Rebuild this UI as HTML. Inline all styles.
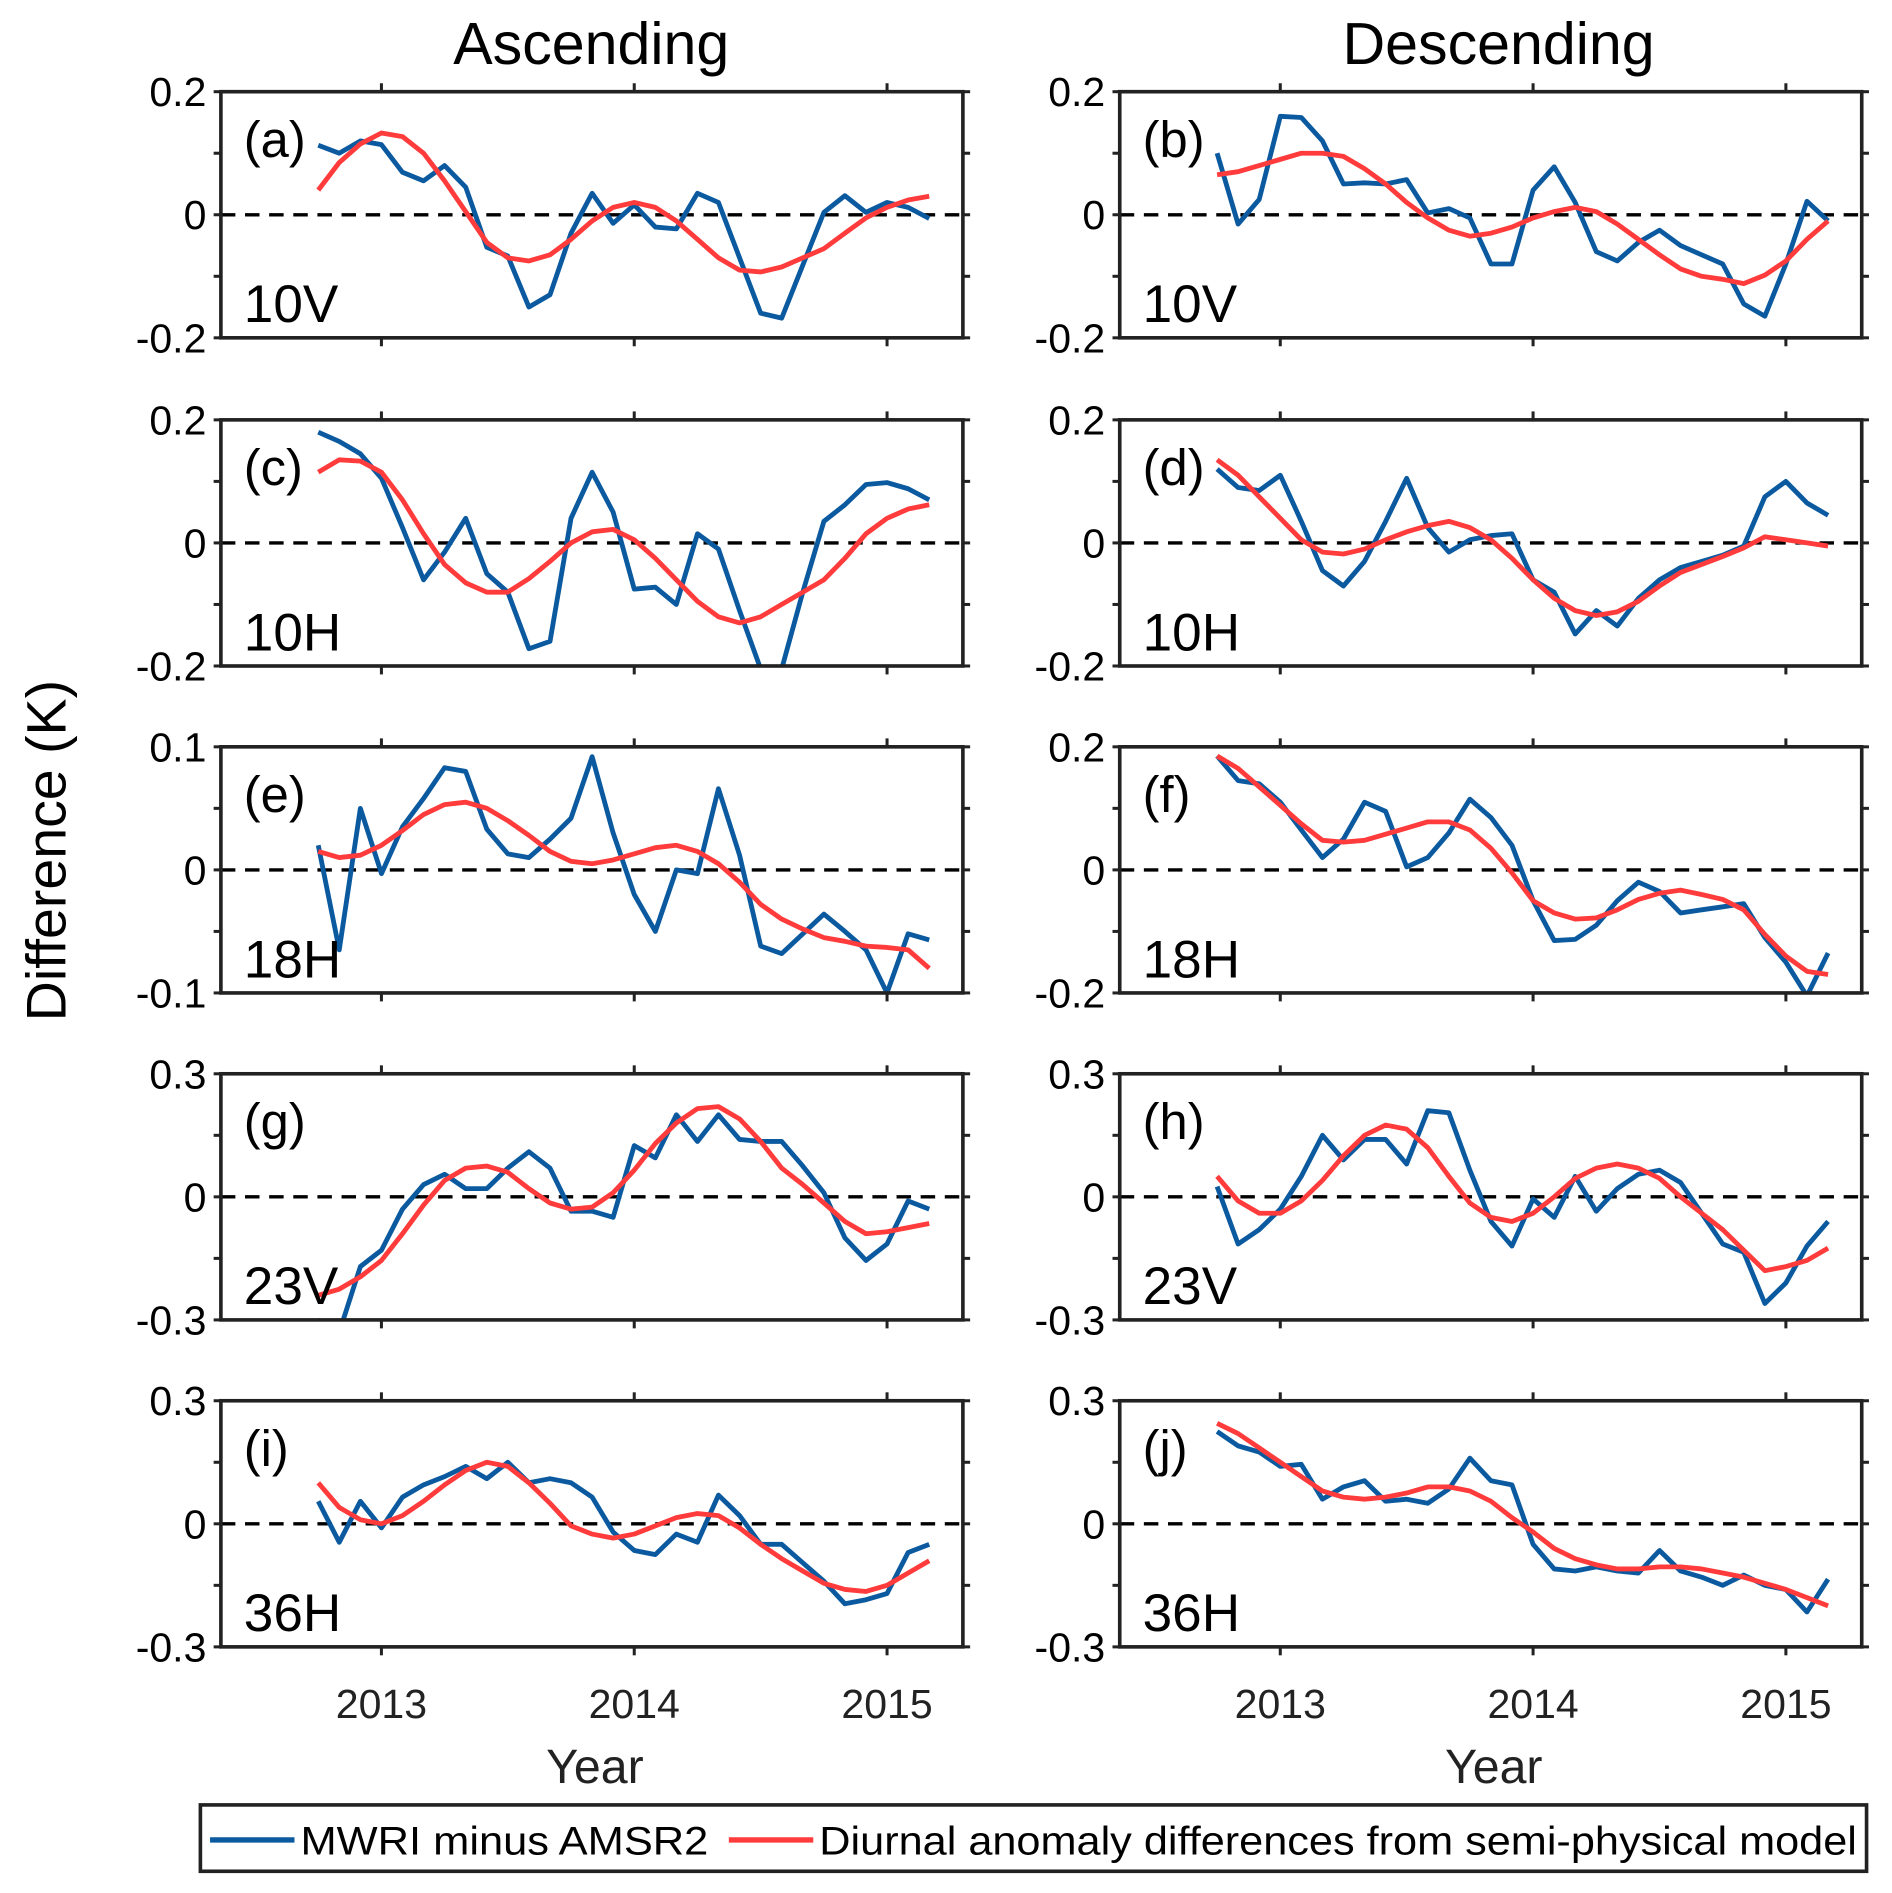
<!DOCTYPE html>
<html><head><meta charset="utf-8"><style>
html,body{margin:0;padding:0;background:#fff;}
svg{display:block;font-family:"Liberation Sans",Arial,sans-serif;}
</style></head><body>
<svg id="chart" width="1892" height="1893" viewBox="0 0 1568 1569" xmlns="http://www.w3.org/2000/svg">
<text x="490" y="53" font-size="49" text-anchor="middle">Ascending</text>
<text x="1242" y="53" font-size="49" text-anchor="middle">Descending</text>
<text transform="translate(54,705) rotate(-90)" font-size="46" text-anchor="middle">Difference (K)</text>
<text x="493" y="1478" font-size="40" text-anchor="middle" fill="#222">Year</text>
<text x="1238" y="1478" font-size="40" text-anchor="middle" fill="#222">Year</text>
<g>
<rect x="166" y="1496" width="1381" height="55" fill="#fff" stroke="#222" stroke-width="3"/>
<line x1="174" y1="1525" x2="244" y2="1525" stroke="#0b5aa0" stroke-width="4.5"/>
<text x="249" y="1537" font-size="33" textLength="338" lengthAdjust="spacingAndGlyphs">MWRI minus AMSR2</text>
<line x1="604" y1="1525" x2="674" y2="1525" stroke="#ff3b3b" stroke-width="4.5"/>
<text x="679" y="1537" font-size="33" textLength="860" lengthAdjust="spacingAndGlyphs">Diurnal anomaly differences from semi-physical model</text>
</g>
</svg>
<script>
const years=[2013,2014,2015];
const startYear=2012.75;
const labels=["(a)","(b)","(c)","(d)","(e)","(f)","(g)","(h)","(i)","(j)"];
const channels=["10V","10V","10H","10H","18H","18H","23V","23V","36H","36H"];
const yMax=[0.2,0.2,0.2,0.2,0.1,0.2,0.3,0.3,0.3,0.3];
const blue_a=[0.113,0.10,0.12,0.114,0.069,0.055,0.08,0.045,-0.053,-0.067,-0.15,-0.13,-0.03,0.035,-0.014,0.016,-0.02,-0.023,0.035,0.02,-0.07,-0.16,-0.168,-0.082,0.004,0.031,0.004,0.02,0.012,-0.006];
const red_a=[0.04,0.085,0.115,0.133,0.127,0.10,0.055,0.005,-0.045,-0.07,-0.075,-0.065,-0.04,-0.01,0.012,0.02,0.012,-0.01,-0.04,-0.07,-0.09,-0.093,-0.085,-0.07,-0.055,-0.03,-0.005,0.012,0.024,0.03];
const blue_b=[0.1,-0.015,0.025,0.16,0.158,0.12,0.05,0.052,0.05,0.057,0.003,0.01,-0.005,-0.08,-0.08,0.04,0.078,0.02,-0.06,-0.075,-0.045,-0.025,-0.05,-0.065,-0.08,-0.145,-0.165,-0.08,0.022,-0.01];
const red_b=[0.065,0.07,0.08,0.09,0.1,0.1,0.095,0.075,0.05,0.02,-0.005,-0.025,-0.035,-0.03,-0.02,-0.005,0.005,0.012,0.005,-0.015,-0.04,-0.065,-0.088,-0.1,-0.105,-0.112,-0.098,-0.075,-0.04,-0.01];
const blue_c=[0.18,0.165,0.145,0.105,0.025,-0.06,-0.015,0.04,-0.05,-0.08,-0.172,-0.16,0.04,0.115,0.05,-0.075,-0.072,-0.1,0.015,-0.01,-0.11,-0.205,-0.205,-0.08,0.035,0.062,0.095,0.098,0.088,0.07];
const red_c=[0.115,0.135,0.133,0.115,0.07,0.015,-0.035,-0.065,-0.08,-0.08,-0.058,-0.03,0,0.018,0.022,0.005,-0.025,-0.06,-0.095,-0.12,-0.13,-0.12,-0.1,-0.08,-0.06,-0.025,0.015,0.04,0.055,0.062];
const blue_d=[0.12,0.09,0.085,0.11,0.035,-0.045,-0.07,-0.03,0.035,0.105,0.025,-0.015,0.005,0.012,0.015,-0.06,-0.08,-0.148,-0.11,-0.135,-0.09,-0.06,-0.04,-0.03,-0.02,-0.005,0.075,0.1,0.065,0.045];
const red_d=[0.135,0.11,0.075,0.04,0.005,-0.015,-0.018,-0.01,0.005,0.018,0.028,0.035,0.025,0.005,-0.025,-0.06,-0.09,-0.11,-0.118,-0.112,-0.095,-0.07,-0.048,-0.035,-0.022,-0.008,0.01,0.005,0,-0.005];
const blue_e=[0.02,-0.065,0.05,-0.003,0.035,0.058,0.083,0.08,0.033,0.013,0.01,0.025,0.042,0.092,0.03,-0.02,-0.05,0,-0.003,0.066,0.012,-0.062,-0.068,-0.052,-0.036,-0.05,-0.065,-0.1,-0.052,-0.057];
const red_e=[0.015,0.01,0.012,0.02,0.032,0.045,0.053,0.055,0.05,0.04,0.028,0.015,0.007,0.005,0.008,0.013,0.018,0.02,0.015,0.005,-0.01,-0.028,-0.04,-0.048,-0.055,-0.058,-0.062,-0.063,-0.065,-0.08];
const blue_f=[0.185,0.145,0.14,0.11,0.065,0.02,0.05,0.11,0.095,0.005,0.02,0.06,0.115,0.085,0.04,-0.05,-0.115,-0.113,-0.09,-0.05,-0.02,-0.035,-0.07,-0.065,-0.06,-0.055,-0.11,-0.15,-0.205,-0.135];
const red_f=[0.185,0.165,0.135,0.105,0.075,0.048,0.045,0.048,0.058,0.068,0.078,0.078,0.065,0.035,-0.005,-0.05,-0.07,-0.08,-0.078,-0.065,-0.048,-0.038,-0.033,-0.04,-0.048,-0.065,-0.105,-0.14,-0.165,-0.17];
const blue_g=[-0.3,-0.33,-0.17,-0.13,-0.03,0.03,0.055,0.02,0.02,0.07,0.11,0.07,-0.035,-0.035,-0.05,0.125,0.095,0.2,0.135,0.2,0.14,0.135,0.135,0.075,0.01,-0.1,-0.155,-0.115,-0.01,-0.03];
const red_g=[-0.24,-0.225,-0.195,-0.155,-0.09,-0.02,0.04,0.07,0.075,0.06,0.02,-0.015,-0.03,-0.025,0.01,0.065,0.13,0.18,0.215,0.22,0.19,0.135,0.07,0.03,-0.015,-0.06,-0.09,-0.085,-0.075,-0.065];
const blue_h=[0.025,-0.115,-0.08,-0.03,0.05,0.15,0.09,0.14,0.14,0.08,0.21,0.205,0.065,-0.06,-0.12,-0.005,-0.05,0.05,-0.035,0.02,0.055,0.065,0.035,-0.04,-0.115,-0.135,-0.26,-0.21,-0.12,-0.06];
const red_h=[0.05,-0.01,-0.04,-0.04,-0.01,0.04,0.1,0.15,0.175,0.165,0.12,0.05,-0.015,-0.05,-0.06,-0.04,0,0.045,0.07,0.08,0.07,0.045,0,-0.04,-0.08,-0.13,-0.18,-0.17,-0.155,-0.125];
const blue_i=[0.055,-0.045,0.055,-0.01,0.065,0.095,0.115,0.14,0.11,0.15,0.1,0.11,0.1,0.065,-0.02,-0.065,-0.075,-0.025,-0.045,0.07,0.02,-0.05,-0.05,-0.095,-0.14,-0.195,-0.185,-0.17,-0.07,-0.05];
const red_i=[0.1,0.04,0.01,0,0.02,0.055,0.095,0.13,0.15,0.14,0.1,0.05,-0.005,-0.025,-0.035,-0.025,-0.005,0.015,0.025,0.02,-0.01,-0.05,-0.085,-0.115,-0.145,-0.16,-0.165,-0.15,-0.12,-0.09];
const blue_j=[0.225,0.19,0.175,0.14,0.145,0.06,0.09,0.105,0.055,0.06,0.05,0.085,0.16,0.105,0.095,-0.05,-0.11,-0.115,-0.105,-0.115,-0.12,-0.065,-0.115,-0.13,-0.15,-0.125,-0.15,-0.16,-0.215,-0.135];
const red_j=[0.245,0.22,0.185,0.15,0.115,0.08,0.065,0.06,0.065,0.075,0.09,0.09,0.08,0.055,0.015,-0.02,-0.06,-0.085,-0.1,-0.11,-0.11,-0.105,-0.105,-0.11,-0.12,-0.13,-0.145,-0.16,-0.18,-0.2];
const blues=[blue_a,blue_b,blue_c,blue_d,blue_e,blue_f,blue_g,blue_h,blue_i,blue_j];
const reds=[red_a,red_b,red_c,red_d,red_e,red_f,red_g,red_h,red_i,red_j];

const NS="http://www.w3.org/2000/svg";
const svg=document.getElementById('chart');
function mk(tag,attrs,parent){const e=document.createElementNS(NS,tag);for(const k in attrs)e.setAttribute(k,attrs[k]);(parent||svg).appendChild(e);return e;}
const xMin=2012.365,xMax=2015.30;
const W=615,H=204;
const colX=[183,928];
const rowY=[76,348,619,890,1161];
const defs=mk('defs',{});
function fmt(v){if(v===0)return "0";return (Math.round(v*10)/10).toString().replace(/^(-?)0\./,'$10.');}
for(let p=0;p<10;p++){
  const L=colX[p%2],T=rowY[Math.floor(p/2)];
  const ym=yMax[p];
  const sx=t=>L+(t-xMin)/(xMax-xMin)*W;
  const sy=v=>T+H/2-v/ym*(H/2);
  const g=mk('g',{});
  
  
  const cp=mk('clipPath',{id:'cp'+p},defs);
  mk('rect',{x:L,y:T,width:W,height:H},cp);
  const z=mk('line',{x1:L,x2:L+W,y1:sy(0),y2:sy(0),stroke:'#000','stroke-width':2.8,'stroke-dasharray':'12,8'},g);
  
  
  const mkLine=(arr,col,name)=>{
    const pts=arr.map((v,i)=>sx(startYear+i/12).toFixed(1)+','+sy(v).toFixed(1)).join(' ');
    const pl=mk('polyline',{points:pts,fill:'none',stroke:col,'stroke-width':4,'stroke-linejoin':'round','clip-path':'url(#cp'+p+')'},g);
    
    
  };
  mkLine(blues[p],'#0b5aa0','mwri-line');
  mkLine(reds[p],'#ff3b3b','diurnal-line');
  const fr=mk('rect',{x:L,y:T,width:W,height:H,fill:'none',stroke:'#222','stroke-width':3},g);
  
  
  years.forEach(yr=>{
    const x=sx(yr);
    mk('line',{x1:x,x2:x,y1:T,y2:T-7,stroke:'#222','stroke-width':2.5},g);
    mk('line',{x1:x,x2:x,y1:T+H,y2:T+H+7,stroke:'#222','stroke-width':2.5},g);
    if(p>=8){const t=mk('text',{x:x,y:1424,'font-size':34,'text-anchor':'middle',fill:'#222'},g);t.textContent=yr;
      
      }
  });
  const yt=[-ym,-ym/2,0,ym/2,ym];
  yt.forEach((v,k)=>{
    const y=sy(v);
    mk('line',{x1:L,x2:L-6,y1:y,y2:y,stroke:'#222','stroke-width':2.5},g);
    mk('line',{x1:L+W,x2:L+W+6,y1:y,y2:y,stroke:'#222','stroke-width':2.5},g);
    if(k%2===0){const t=mk('text',{x:L-12,y:y+12,'font-size':34,'text-anchor':'end'},g);t.textContent=fmt(v);
      
      }
  });
  const pl=mk('text',{x:L+19,y:T+54,'font-size':42},g);pl.textContent=labels[p];
  
  
  const cl=mk('text',{x:L+19,y:T+191,'font-size':44},g);cl.textContent=channels[p];
  
  
}
</script>
</body></html>
